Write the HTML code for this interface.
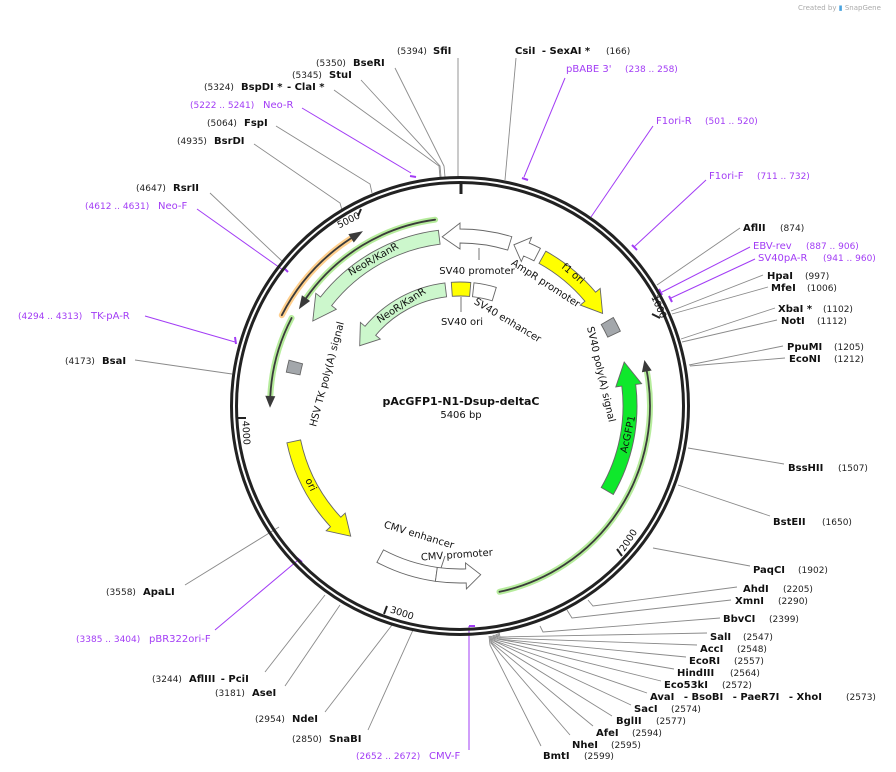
<!DOCTYPE html>
<html><head><meta charset="utf-8"><style>
html,body{margin:0;padding:0;background:#fff;}
svg{display:block;font-family:"DejaVu Sans","Liberation Sans",sans-serif;}
.e{font-size:10px;font-weight:bold;fill:#111;}
.n{font-size:9px;fill:#222;}
.p{font-size:10px;fill:#a23cf5;}
.pn{font-size:9px;fill:#a23cf5;}
.f{font-size:10px;fill:#111;}
.l{stroke:#8a8a8a;stroke-width:0.9;fill:none;}
.lp{stroke:#a23cf5;stroke-width:1;fill:none;}
.tk{stroke:#a23cf5;stroke-width:2;}
</style></head><body>
<svg width="896" height="772" viewBox="0 0 896 772" xmlns="http://www.w3.org/2000/svg">
<text x="798" y="10" style="font-size:7px;fill:#aaa">Created by <tspan style="fill:#4aa3df">▮</tspan> SnapGene</text>

<!-- leader lines -->
<g class="l">
<path d="M458,58 L458,178"/>
<path d="M395,68 L444,166 L445,177"/>
<path d="M361,80 L440,166 L441,177"/>
<path d="M334,90 L439,166 L440,177"/>
<path d="M276,126 L370,184 L372,193"/>
<path d="M254,144 L340,203 L342,210"/>
<path d="M210,193 L283,262"/>
<path d="M135,360 L232,374"/>
<path d="M185,585 L279,527"/>
<path d="M265,672 L325,595"/>
<path d="M285,686 L340,605"/>
<path d="M325,712 L392,625"/>
<path d="M368,730 L413,630"/>
<path d="M541,746 L490,645 L489,636"/>
<path d="M570,735 L491,643 L490,636"/>
<path d="M593,726 L492,643 L491,636"/>
<path d="M612,716 L493,642 L492,636"/>
<path d="M631,705 L494,641 L493,635"/>
<path d="M647,693 L495,641 L494,635"/>
<path d="M661,681 L496,640 L495,635"/>
<path d="M674,669 L497,639 L496,634"/>
<path d="M686,657 L498,639 L497,634"/>
<path d="M697,645 L499,638 L498,633"/>
<path d="M707,633 L500,637 L499,632"/>
<path d="M720,618 L543,632 L540,626"/>
<path d="M731,600 L572,618 L567,610"/>
<path d="M737,587 L593,606 L588,600"/>
<path d="M750,566 L653,548"/>
<path d="M770,516 L678,485"/>
<path d="M784,464 L688,448"/>
<path d="M785,358 L690,366"/>
<path d="M783,346 L689,365"/>
<path d="M777,320 L682,342"/>
<path d="M775,308 L681,339"/>
<path d="M768,287 L672,314"/>
<path d="M763,275 L671,311"/>
<path d="M740,228 L657,285"/>
<path d="M516,58 L505,180"/>
</g>
<g class="lp">
<path d="M302,108 L411,173"/>
<path d="M197,209 L283,270"/>
<path d="M145,316 L235,342"/>
<path d="M215,630 L297,561"/>
<path d="M469,750 L469,626"/>
<path d="M755,259 L671,298"/>
<path d="M750,247 L662,292"/>
<path d="M706,180 L634,247"/>
<path d="M653,126 L591,217"/>
<path d="M565,78 L524,177"/>
</g>
<g class="tk">
<path d="M410,176 L416,177"/>
<path d="M284,268 L288,272"/>
<path d="M235,337 L236,344"/>
<path d="M297,558 L302,562"/>
<path d="M469,626 L475,626"/>
<path d="M669,296 L672,302"/>
<path d="M659,289 L662,295"/>
<path d="M632,245 L637,250"/>
<path d="M583,220 L588,223"/>
<path d="M522,178 L528,180"/>
</g>

<!-- backbone -->
<circle cx="460" cy="406" r="228.5" fill="none" stroke="#222" stroke-width="3"/>
<circle cx="460" cy="406" r="223.5" fill="none" stroke="#222" stroke-width="3"/>
<path d="M461,183 L461,194" stroke="#222" stroke-width="3"/>
<g stroke="#222" stroke-width="2">
<path d="M660,318 L652,314"/>
<path d="M622,556 L617,549"/>
<path d="M384,614 L387,606"/>
<path d="M238,418 L246,418"/>
<path d="M361,209 L358,216"/>
</g>
<g class="f" style="font-size:9.5px" text-anchor="middle">
<text transform="translate(656,308) rotate(66)">1000</text>
<text transform="translate(631,542) rotate(-57)">2000</text>
<text transform="translate(401,616) rotate(18)">3000</text>
<text transform="translate(243,433) rotate(87)">4000</text>
<text transform="translate(350,223) rotate(-27)">5000</text>
</g>

<!-- thin arcs with highlight -->
<g fill="none" stroke-linecap="round">
<path d="M646.5,369.7 A190,190 0 0 1 499.5,591.8" stroke="#b6ec9c" stroke-width="6"/>
<path d="M291.6,318 A190,190 0 0 0 270.3,396.1" stroke="#b6ec9c" stroke-width="6"/>
<path d="M435.1,219.7 A188,188 0 0 0 306,298.2" stroke="#b6ec9c" stroke-width="6"/>
<path d="M281.8,315.2 A200,200 0 0 1 351.1,238.3" stroke="#ffcf8c" stroke-width="6"/>
<path d="M646.5,369.7 A190,190 0 0 1 499.5,591.8" stroke="#3a3a3a" stroke-width="1.8"/>
<path d="M291.6,318 A190,190 0 0 0 270.3,396.1" stroke="#3a3a3a" stroke-width="1.8"/>
<path d="M435.1,219.7 A188,188 0 0 0 306,298.2" stroke="#3a3a3a" stroke-width="1.8"/>
<path d="M281.8,315.2 A200,200 0 0 1 351.1,238.3" stroke="#3a3a3a" stroke-width="1.8"/>
</g>
<g fill="#3a3a3a">
<path d="M644.4,360 L641.9,372.3 L651.7,370.5 Z"/>
<path d="M270,407.7 L275.3,396.3 L265.3,395.8 Z"/>
<path d="M298.9,309.2 L310.1,301 L301.9,295.3 Z"/>
<path d="M363,231.1 L353.8,242.5 L348.4,234.1 Z"/>
</g>

<!-- features -->
<g stroke="#666" stroke-width="0.9">
<path fill="#ffff00" d="M545.8,251.2 A177,177 0 0 1 595.6,292.2 L600.2,288.4 L602.6,313.4 L580.3,305.1 L584.9,301.2 A163,163 0 0 0 539,263.4 Z"/>
<path fill="#fff" d="M540.4,248.3 A177,177 0 0 0 529.2,243.1 L531.5,237.5 L513.9,244.8 L521.3,261.5 L523.7,256 A163,163 0 0 1 534,260.8 Z"/>
<path fill="#fff" d="M511.8,236.7 A177,177 0 0 0 460,229 L460,223 L442.2,236.9 L460,249 L460,243 A163,163 0 0 1 507.7,250.1 Z"/>
<path fill="#ccf7cc" d="M438.4,230.3 A177,177 0 0 0 320.5,297 L315.8,293.3 L312.8,321 L336.3,309.3 L331.6,305.6 A163,163 0 0 1 440.1,244.2 Z"/>
<path fill="#ffff00" d="M451.3,282.3 A124,124 0 0 1 470.8,282.5 L469.6,296.4 A110,110 0 0 0 452.3,296.3 Z"/>
<path fill="#fff" d="M474,282.8 A124,124 0 0 1 496.3,287.4 L492.2,300.8 A110,110 0 0 0 472.5,296.7 Z"/>
<path fill="#ccf7cc" d="M444.9,282.9 A124,124 0 0 0 365,326.3 L360.4,322.4 L359.7,345.7 L380.3,339.1 L375.7,335.3 A110,110 0 0 1 446.6,296.8 Z"/>
<path fill="#a3a7ab" d="M613.3,317.5 A177,177 0 0 1 620.4,331.2 L607.7,337.1 A163,163 0 0 0 601.2,324.5 Z"/>
<path fill="#0fe82c" d="M613.3,494.5 A177,177 0 0 0 635.7,384.4 L641.6,383.7 L624.2,362 L615.8,386.9 L621.8,386.1 A163,163 0 0 1 601.2,487.5 Z"/>
<path fill="#ffff00" d="M286.9,442.8 A177,177 0 0 0 330.5,526.7 L326.2,530.8 L350.7,536.2 L345.2,513.1 L340.8,517.2 A163,163 0 0 1 300.6,439.9 Z"/>
<path fill="#fff" d="M376.9,562.3 A177,177 0 0 0 435.4,581.3 L437.3,567.4 A163,163 0 0 1 383.5,549.9 Z"/>
<path fill="#fff" d="M435.4,581.3 A177,177 0 0 0 466.2,582.9 L466.4,588.9 L480.7,574.7 L465.5,562.9 L465.7,568.9 A163,163 0 0 1 437.3,567.4 Z"/>
<path fill="#a3a7ab" d="M286.3,372.2 A177,177 0 0 1 289,360.2 L302.6,363.8 A163,163 0 0 0 300,374.9 Z"/>
</g>
<g stroke="#666" stroke-width="0.9">
<path d="M479,248 L479,260"/>
<path d="M461,297 L461,312"/>
<path d="M445,556 L441,568"/>
</g>

<!-- feature labels -->
<g class="f" text-anchor="middle">
<text transform="translate(571,276) rotate(40)">f1 ori</text>
<text transform="translate(544,286) rotate(33)">AmpR promoter</text>
<text x="477" y="274">SV40 promoter</text>
<text transform="translate(375,262) rotate(-30)">NeoR/KanR</text>
<text transform="translate(403,308) rotate(-33)">NeoR/KanR</text>
<text x="462" y="325">SV40 ori</text>
<text transform="translate(506,323) rotate(31)">SV40 enhancer</text>
<text transform="translate(598,375) rotate(77)">SV40 poly(A) signal</text>
<text transform="translate(631,435) rotate(-77)">AcGFP1</text>
<text transform="translate(308,486) rotate(64)">ori</text>
<text transform="translate(418,538) rotate(17)">CMV enhancer</text>
<text transform="translate(457,558) rotate(-4)">CMV promoter</text>
<text transform="translate(330,375) rotate(-75)">HSV TK poly(A) signal</text>
</g>
<text x="461" y="405" text-anchor="middle" style="font-size:11px;font-weight:bold;fill:#111">pAcGFP1-N1-Dsup-deltaC</text>
<text x="461" y="418" text-anchor="middle" style="font-size:10px;fill:#111">5406 bp</text>

<!-- site labels -->
<text x="397" y="54" class="n">(5394)</text><text x="433" y="54" class="e">SfiI</text>
<text x="316" y="66" class="n">(5350)</text><text x="353" y="66" class="e">BseRI</text>
<text x="292" y="78" class="n">(5345)</text><text x="329" y="78" class="e">StuI</text>
<text x="204" y="90" class="n">(5324)</text><text x="241" y="90" class="e">BspDI * <tspan dx="1">- ClaI *</tspan></text>
<text x="190" y="108" class="pn">(5222 .. 5241)</text><text x="263" y="108" class="p">Neo-R</text>
<text x="207" y="126" class="n">(5064)</text><text x="244" y="126" class="e">FspI</text>
<text x="177" y="144" class="n">(4935)</text><text x="214" y="144" class="e">BsrDI</text>
<text x="136" y="191" class="n">(4647)</text><text x="173" y="191" class="e">RsrII</text>
<text x="85" y="209" class="pn">(4612 .. 4631)</text><text x="158" y="209" class="p">Neo-F</text>
<text x="18" y="319" class="pn">(4294 .. 4313)</text><text x="91" y="319" class="p">TK-pA-R</text>
<text x="65" y="364" class="n">(4173)</text><text x="102" y="364" class="e">BsaI</text>
<text x="106" y="595" class="n">(3558)</text><text x="143" y="595" class="e">ApaLI</text>
<text x="76" y="642" class="pn">(3385 .. 3404)</text><text x="149" y="642" class="p">pBR322ori-F</text>
<text x="152" y="682" class="n">(3244)</text><text x="189" y="682" class="e">AflIII <tspan dx="2">- PciI</tspan></text>
<text x="215" y="696" class="n">(3181)</text><text x="252" y="696" class="e">AseI</text>
<text x="255" y="722" class="n">(2954)</text><text x="292" y="722" class="e">NdeI</text>
<text x="292" y="742" class="n">(2850)</text><text x="329" y="742" class="e">SnaBI</text>
<text x="356" y="759" class="pn">(2652 .. 2672)</text><text x="429" y="759" class="p">CMV-F</text>

<text x="543" y="759" class="e">BmtI</text><text x="584" y="759" class="n">(2599)</text>
<text x="572" y="748" class="e">NheI</text><text x="611" y="748" class="n">(2595)</text>
<text x="596" y="736" class="e">AfeI</text><text x="632" y="736" class="n">(2594)</text>
<text x="616" y="724" class="e">BglII</text><text x="656" y="724" class="n">(2577)</text>
<text x="634" y="712" class="e">SacI</text><text x="671" y="712" class="n">(2574)</text>
<text x="650" y="700" class="e">AvaI <tspan dx="6">- BsoBI</tspan> <tspan dx="6">- PaeR7I</tspan> <tspan dx="6">- XhoI</tspan></text><text x="846" y="700" class="n">(2573)</text>
<text x="664" y="688" class="e">Eco53kI</text><text x="722" y="688" class="n">(2572)</text>
<text x="677" y="676" class="e">HindIII</text><text x="730" y="676" class="n">(2564)</text>
<text x="689" y="664" class="e">EcoRI</text><text x="734" y="664" class="n">(2557)</text>
<text x="700" y="652" class="e">AccI</text><text x="737" y="652" class="n">(2548)</text>
<text x="710" y="640" class="e">SalI</text><text x="743" y="640" class="n">(2547)</text>
<text x="723" y="622" class="e">BbvCI</text><text x="769" y="622" class="n">(2399)</text>
<text x="735" y="604" class="e">XmnI</text><text x="778" y="604" class="n">(2290)</text>
<text x="743" y="592" class="e">AhdI</text><text x="783" y="592" class="n">(2205)</text>
<text x="753" y="573" class="e">PaqCI</text><text x="798" y="573" class="n">(1902)</text>
<text x="773" y="525" class="e">BstEII</text><text x="822" y="525" class="n">(1650)</text>
<text x="788" y="471" class="e">BssHII</text><text x="838" y="471" class="n">(1507)</text>
<text x="789" y="362" class="e">EcoNI</text><text x="834" y="362" class="n">(1212)</text>
<text x="787" y="350" class="e">PpuMI</text><text x="834" y="350" class="n">(1205)</text>
<text x="781" y="324" class="e">NotI</text><text x="817" y="324" class="n">(1112)</text>
<text x="778" y="312" class="e">XbaI *</text><text x="823" y="312" class="n">(1102)</text>
<text x="771" y="291" class="e">MfeI</text><text x="807" y="291" class="n">(1006)</text>
<text x="767" y="279" class="e">HpaI</text><text x="805" y="279" class="n">(997)</text>
<text x="758" y="261" class="p">SV40pA-R</text><text x="823" y="261" class="pn">(941 .. 960)</text>
<text x="753" y="249" class="p">EBV-rev</text><text x="806" y="249" class="pn">(887 .. 906)</text>
<text x="743" y="231" class="e">AflII</text><text x="780" y="231" class="n">(874)</text>
<text x="709" y="179" class="p">F1ori-F</text><text x="757" y="179" class="pn">(711 .. 732)</text>
<text x="656" y="124" class="p">F1ori-R</text><text x="705" y="124" class="pn">(501 .. 520)</text>
<text x="566" y="72" class="p">pBABE 3'</text><text x="625" y="72" class="pn">(238 .. 258)</text>
<text x="515" y="54" class="e">CsiI <tspan dx="3">- SexAI *</tspan></text><text x="606" y="54" class="n">(166)</text>
</svg>
</body></html>
